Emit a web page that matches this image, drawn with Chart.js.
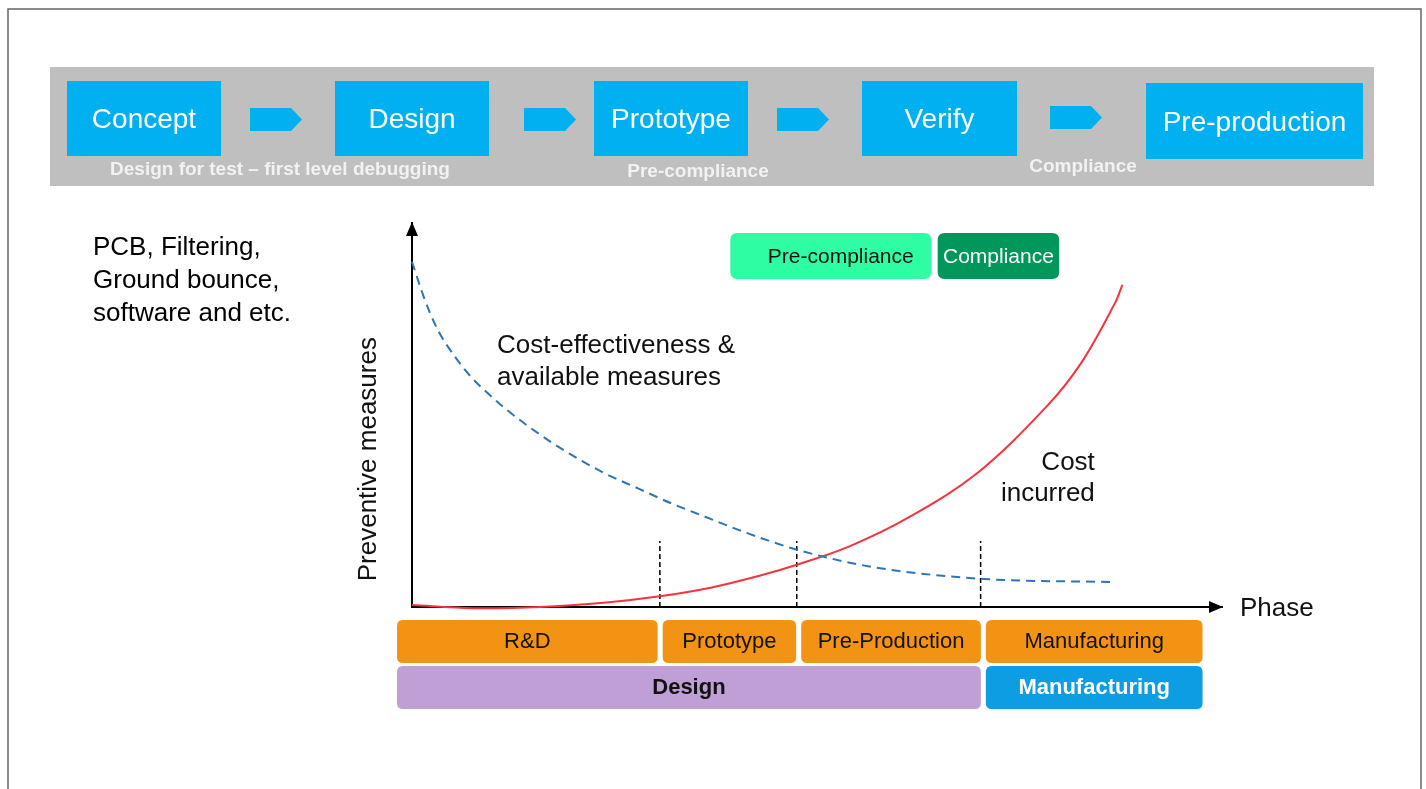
<!DOCTYPE html>
<html>
<head>
<meta charset="utf-8">
<title>EMC measures across the product phases</title>
<script src="https://cdn.jsdelivr.net/npm/chart.js@4.4.1/dist/chart.umd.min.js"></script>
<style>
    html, body { margin: 0; padding: 0; background: #fff; }
    #wrap { position: relative; width: 1426px; height: 789px; }
</style>
</head>
<body>
<div id="wrap"><canvas id="phase-chart"></canvas></div>
<script>
// Curves (x = position along the phase axis, y = relative level)
const measuresX = [0, 1.6, 3.2, 5.3, 7.3, 9.4, 11.5, 15.6, 19.7, 23.8, 27.9, 32, 36.2, 40.3, 44.4, 47.7, 56.9, 70.6, 86.5];
const measuresY = [89.9, 79.9, 72.1, 65.2, 59.9, 55.6, 51.7, 45.2, 39.6, 34.8, 30.9, 27, 23.5, 20.1, 17, 14.8, 10.4, 7.3, 6.5];
const costX = [0, 7.5, 15.8, 24, 30.6, 37, 43, 47.8, 54, 61.2, 69.8, 78.3, 82.6, 86.8, 87.7];
const costY = [0.5, -0.3, 0, 1.2, 2.8, 5.1, 8.2, 11.2, 15.8, 23.2, 34.9, 52.1, 63.5, 79.2, 83.9];

// Dashed phase markers
const markerX = [30.6, 47.5, 70.2];
const markerTop = 17.2;

// Bands under the phase axis
const phaseLabels = ['R&D', 'Prototype', 'Pre-Production', 'Manufacturing'];
const phaseEdges = [-1.85, 30.7, 47.8, 70.6, 97.6];
const stageLabels = ['Design', 'Manufacturing'];
const stageEdges = [-1.85, 70.6, 97.6];

// Compliance tags above the curves
const tagLabels = ['Pre-compliance', 'Compliance'];
const tagEdges = [39.3, 64.1, 64.9, 79.9];

// Process flow banner
const flowSteps = ['Concept', 'Design', 'Prototype', 'Verify', 'Pre-production'];
const flowNotes = ['Design for test – first level debugging', 'Pre-compliance', 'Compliance'];
const sideNote = ['PCB, Filtering,', 'Ground bounce,', 'software and etc.'];
const curveNotes = ['Cost-effectiveness &', 'available measures'];
const costNotes = ['Cost', 'incurred'];

document.addEventListener('DOMContentLoaded', function() {
    const FONT = '"Liberation Sans", Arial, sans-serif';

    // Banner layout (pixels)
    const stepBoxes = [
        { x: 67, y: 81, w: 154, h: 75 },
        { x: 335, y: 81, w: 154, h: 75 },
        { x: 594, y: 81, w: 154, h: 75 },
        { x: 862, y: 81, w: 155, h: 75 },
        { x: 1146, y: 83, w: 217, h: 76 }
    ];
    const arrowLefts = [250, 524, 777, 1050];
    const notePos = [{ x: 280, y: 170 }, { x: 698, y: 172 }, { x: 1083, y: 167 }];

    function roundRect(ctx, x, y, w, h, r) {
        ctx.beginPath();
        ctx.moveTo(x + r, y);
        ctx.lineTo(x + w - r, y);
        ctx.quadraticCurveTo(x + w, y, x + w, y + r);
        ctx.lineTo(x + w, y + h - r);
        ctx.quadraticCurveTo(x + w, y + h, x + w - r, y + h);
        ctx.lineTo(x + r, y + h);
        ctx.quadraticCurveTo(x, y + h, x, y + h - r);
        ctx.lineTo(x, y + r);
        ctx.quadraticCurveTo(x, y, x + r, y);
        ctx.closePath();
    }

    function drawBanner(ctx) {
        // frame of the slide
        ctx.strokeStyle = '#666';
        ctx.lineWidth = 1.5;
        ctx.beginPath();
        ctx.moveTo(8, 800);
        ctx.lineTo(8, 9);
        ctx.lineTo(1421, 9);
        ctx.lineTo(1421, 800);
        ctx.stroke();

        ctx.fillStyle = '#bfbfbf';
        ctx.fillRect(50, 67, 1324, 119);

        ctx.textAlign = 'center';
        ctx.textBaseline = 'middle';
        stepBoxes.forEach((b, i) => {
            ctx.fillStyle = '#00b0f0';
            ctx.fillRect(b.x, b.y, b.w, b.h);
            ctx.fillStyle = '#fff';
            ctx.font = '28px ' + FONT;
            ctx.fillText(flowSteps[i], b.x + b.w / 2, b.y + b.h / 2 + 2);
        });

        arrowLefts.forEach(x => {
            const top = x === 1050 ? 106 : 108;
            ctx.fillStyle = '#00b0f0';
            ctx.beginPath();
            ctx.moveTo(x, top);
            ctx.lineTo(x + 41, top);
            ctx.lineTo(x + 52, top + 11.5);
            ctx.lineTo(x + 41, top + 23);
            ctx.lineTo(x, top + 23);
            ctx.closePath();
            ctx.fill();
        });

        ctx.fillStyle = '#f2f2f2';
        ctx.font = 'bold 19px ' + FONT;
        flowNotes.forEach((t, i) => ctx.fillText(t, notePos[i].x, notePos[i].y));

        // note on the left
        ctx.fillStyle = '#000';
        ctx.textAlign = 'left';
        ctx.font = '26px ' + FONT;
        sideNote.forEach((t, i) => ctx.fillText(t, 93, 248 + i * 33));
    }

    function drawArrows(chart) {
        const ctx = chart.ctx;
        const area = chart.chartArea;
        ctx.fillStyle = '#000';
        ctx.beginPath();
        ctx.moveTo(area.left, area.top - 1);
        ctx.lineTo(area.left - 6, area.top + 13);
        ctx.lineTo(area.left + 6, area.top + 13);
        ctx.closePath();
        ctx.fill();
        ctx.beginPath();
        ctx.moveTo(area.right + 1, area.bottom);
        ctx.lineTo(area.right - 13, area.bottom - 6);
        ctx.lineTo(area.right - 13, area.bottom + 6);
        ctx.closePath();
        ctx.fill();
    }

    function drawBands(chart) {
        const ctx = chart.ctx;
        const xs = chart.scales.x;
        const ys = chart.scales.y;
        const px = v => xs.getPixelForValue(v);
        const py = v => ys.getPixelForValue(v);
        const bottom = chart.chartArea.bottom;

        ctx.textAlign = 'center';
        ctx.textBaseline = 'middle';

        // phases row
        phaseLabels.forEach((label, i) => {
            const l = px(phaseEdges[i]) + (i === 0 ? 0 : 2);
            const r = px(phaseEdges[i + 1]) - (i === phaseLabels.length - 1 ? 0 : 3);
            ctx.fillStyle = '#f39313';
            roundRect(ctx, l, bottom + 13, r - l, 43, 6);
            ctx.fill();
            ctx.fillStyle = '#111';
            ctx.font = '22px ' + FONT;
            ctx.fillText(label, (l + r) / 2, bottom + 35);
        });

        // stages row
        const stageColors = ['#bf9fd6', '#0c9de2'];
        const stageText = ['#111', '#fff'];
        stageLabels.forEach((label, i) => {
            const l = px(stageEdges[i]) + (i === 0 ? 0 : 2);
            const r = px(stageEdges[i + 1]) - (i === stageLabels.length - 1 ? 0 : 3);
            ctx.fillStyle = stageColors[i];
            roundRect(ctx, l, bottom + 59, r - l, 43, 6);
            ctx.fill();
            ctx.fillStyle = stageText[i];
            ctx.font = 'bold 22px ' + FONT;
            ctx.fillText(label, (l + r) / 2, bottom + 81);
        });

        // compliance tags
        const tagColors = ['#2efda3', '#02975a'];
        const tagText = ['#111', '#fff'];
        tagLabels.forEach((label, i) => {
            const l = px(tagEdges[i * 2]);
            const r = px(tagEdges[i * 2 + 1]);
            const t = py(97.4);
            const b = py(85.4);
            ctx.fillStyle = tagColors[i];
            roundRect(ctx, l, t, r - l, b - t, 7);
            ctx.fill();
            ctx.fillStyle = tagText[i];
            ctx.font = '21px ' + FONT;
            ctx.fillText(label, (l + r) / 2 + (i === 0 ? 10 : 0), (t + b) / 2 + 1);
        });

        // curve labels
        ctx.fillStyle = '#111';
        ctx.font = '26px ' + FONT;
        ctx.textAlign = 'left';
        curveNotes.forEach((t, i) => ctx.fillText(t, px(10.5), py(68) + i * 32));
        ctx.textAlign = 'right';
        costNotes.forEach((t, i) => ctx.fillText(t, px(84.3), py(37.5) + i * 31));

        // axis titles
        ctx.textAlign = 'left';
        ctx.fillText('Phase', chart.chartArea.right + 18, bottom + 2);
        ctx.save();
        ctx.translate(chart.chartArea.left - 43, py(38.5));
        ctx.rotate(-Math.PI / 2);
        ctx.textAlign = 'center';
        ctx.fillText('Preventive measures', 0, 0);
        ctx.restore();
    }

    const diagramPlugin = {
        id: 'diagram',
        beforeDraw(chart) {
            drawBanner(chart.ctx);
        },
        afterDraw(chart) {
            drawArrows(chart);
            drawBands(chart);
        }
    };

    const toPoints = (xs, ys) => xs.map((x, i) => ({ x: x, y: ys[i] }));

    const markerSets = markerX.map(x => ({
        label: 'marker',
        data: [{ x: x, y: 0 }, { x: x, y: markerTop }],
        borderColor: '#000',
        borderWidth: 1.5,
        borderDash: [5, 3],
        pointRadius: 0
    }));

    // Chart initialization
    new Chart(document.getElementById('phase-chart'), {
        type: 'line',
        data: {
            datasets: [{
                label: 'Cost-effectiveness & available measures',
                data: toPoints(measuresX, measuresY),
                borderColor: '#2e75b6',
                borderWidth: 2,
                borderDash: [9, 6],
                pointRadius: 0,
                cubicInterpolationMode: 'monotone',
                clip: false
            }, {
                label: 'Cost incurred',
                data: toPoints(costX, costY),
                borderColor: '#f8333c',
                borderWidth: 2,
                pointRadius: 0,
                tension: 0.35,
                clip: false
            }].concat(markerSets)
        },
        options: {
            responsive: true,
            maintainAspectRatio: false,
            animation: false,
            events: [],
            layout: {
                padding: { left: 404, top: 223, right: 204, bottom: 174 }
            },
            scales: {
                x: {
                    type: 'linear', min: 0, max: 100,
                    grid: { display: false },
                    ticks: { display: false },
                    border: { color: '#000', width: 2 }
                },
                y: {
                    type: 'linear', min: 0, max: 100,
                    grid: { display: false },
                    ticks: { display: false },
                    border: { color: '#000', width: 2 }
                }
            },
            plugins: {
                legend: { display: false },
                tooltip: { enabled: false }
            }
        },
        plugins: [diagramPlugin]
    });
});
</script>
</body>
</html>
